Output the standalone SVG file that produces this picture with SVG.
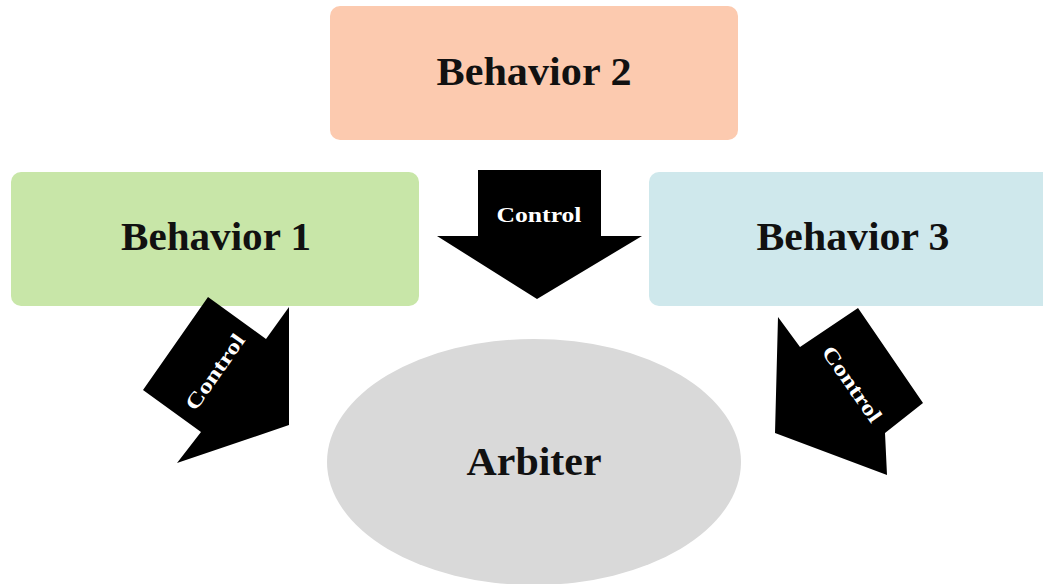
<svg xmlns="http://www.w3.org/2000/svg" width="1043" height="584" viewBox="0 0 1043 584">
<style>
.lbl{font-family:"Liberation Serif","Times New Roman",serif;font-weight:bold;font-size:40px;fill:#111;text-anchor:middle}
.ctl{font-family:"Liberation Serif","Times New Roman",serif;font-weight:bold;font-size:21px;fill:#fff;text-anchor:middle}
.arr{fill:#000}
</style>
<rect width="1043" height="584" fill="#fff"/>
<g id="arbiter">
<ellipse cx="534" cy="462" rx="207" ry="123" fill="#D9D9D9"/>
<text class="lbl" x="534" y="475" textLength="135" lengthAdjust="spacingAndGlyphs">Arbiter</text>
</g>
<g id="behavior2">
<rect x="330" y="6" width="408" height="134" rx="10" fill="#FCCAAF"/>
<text class="lbl" x="534" y="85" textLength="195" lengthAdjust="spacingAndGlyphs">Behavior 2</text>
</g>
<g id="behavior1">
<rect x="11" y="172" width="408" height="134" rx="10" fill="#C8E6A8"/>
<text class="lbl" x="216" y="250" textLength="190" lengthAdjust="spacingAndGlyphs">Behavior 1</text>
</g>
<g id="behavior3">
<rect x="649" y="172" width="410" height="134" rx="10" fill="#CFE8EC"/>
<text class="lbl" x="853" y="250" textLength="193" lengthAdjust="spacingAndGlyphs">Behavior 3</text>
</g>
<g id="connectors">
<g id="arrow-mid">
<polygon class="arr" points="478,170 601,170 601,236 642,236 537,299 437,236 478,236"/>
<text class="ctl" x="539" y="222" textLength="85" lengthAdjust="spacingAndGlyphs">Control</text>
</g>
<g id="arrow-left">
<polygon class="arr" points="208,297 266,339 289,307 289,425 177,463 201,432 143,390"/>
<text class="ctl" transform="translate(215,372) rotate(-55)" x="0" y="7" textLength="88" lengthAdjust="spacingAndGlyphs">Control</text>
</g>
<g id="arrow-right">
<polygon class="arr" points="858,308 923,403 885,433 887,475 775,433 778,317 800,347"/>
<text class="ctl" transform="translate(852,384) rotate(55)" x="0" y="7" textLength="88" lengthAdjust="spacingAndGlyphs">Control</text>
</g>
</g>
</svg>
